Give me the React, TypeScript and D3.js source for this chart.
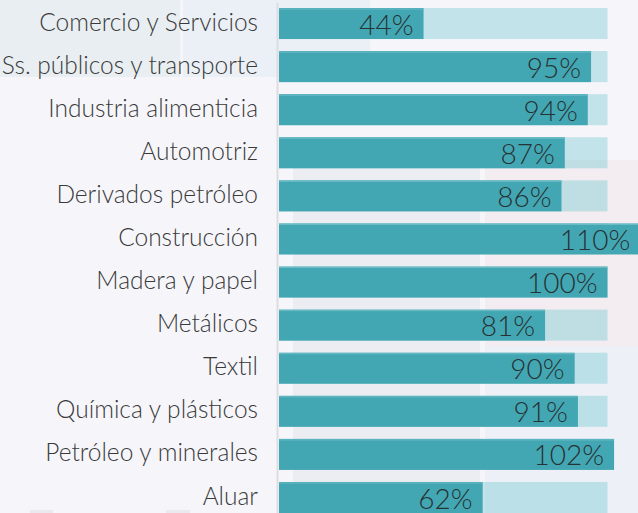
import React from "react";
import * as d3 from "d3";

const categories = [
  "Comercio y Servicios",
  "Ss. públicos y transporte",
  "Industria alimenticia",
  "Automotriz",
  "Derivados petróleo",
  "Construcción",
  "Madera y papel",
  "Metálicos",
  "Textil",
  "Química y plásticos",
  "Petróleo y minerales",
  "Aluar",
];
const values = [44, 95, 94, 87, 86, 110, 100, 81, 90, 91, 102, 62];
const target = 100;

const W = 638;
const H = 513;

export default function App() {
  const x = d3.scaleLinear().domain([0, 100]).range([279, 607.5]);
  const step = 43.09;
  const y = d3
    .scaleBand<string>()
    .domain(categories)
    .range([8 - step * 0.14, 8 - step * 0.14 + step * categories.length])
    .paddingInner(0.28)
    .paddingOuter(0.14);
  const bw = y.bandwidth();
  const font = "Lato, 'Open Sans', sans-serif";

  return (
    <svg
      width={W}
      height={H}
      style={{ position: "absolute", left: 0, top: 0, background: "#f6f6fa" }}
    >
      <defs>
        <clipPath id="plot">
          <rect x={0} y={0} width={W} height={H} />
        </clipPath>
      </defs>
      {/* decorative dashboard panels */}
      <rect x={0} y={0} width={180} height={77} fill="#e8eef1" />
      <rect x={183} y={0} width={187} height={77} fill="#ebf0f7" />
      <rect x={293} y={160} width={187} height={353} fill="#ebedf2" />
      <rect x={485} y={160} width={153} height={186} fill="#f3edf1" />
      <rect x={485} y={346} width={153} height={167} fill="#edf1f7" />
      <rect x={30} y={510} width={23} height={3} fill="#e9e9ef" />
      <rect x={166} y={510} width={24} height={3} fill="#e9e9ef" />

      <line x1={277.5} x2={277.5} y1={3} y2={H} stroke="#dcdce1" strokeWidth={2} />

      <g clipPath="url(#plot)">
        {categories.map((c, i) => {
          const yy = y(c)!;
          const v = values[i];
          const xe = x(v);
          return (
            <g key={c}>
              <rect
                x={x(0)}
                y={yy}
                width={x(target) - x(0)}
                height={bw}
                fill="#8cd0d8"
                fillOpacity={0.5}
              />
              <rect x={x(0)} y={yy} width={xe - x(0)} height={bw} fill="#43a7b3" />
              <rect
                x={x(0)}
                y={yy + 0.5}
                width={xe - x(0)}
                height={1}
                fill="#6cbcc5"
              />
              <text
                x={Math.min(xe - 10, 634)}
                y={yy + bw / 2 + 11}
                textAnchor="end"
                fontFamily={font}
                fontWeight={300}
                fontSize={28}
                fill="#263234"
              >
                {v}%
              </text>
              <text
                x={258}
                y={yy + bw / 2 + 7}
                textAnchor="end"
                fontFamily={font}
                fontWeight={300}
                fontSize={24.5}
                fill="#3a3a3a"
              >
                {c}
              </text>
            </g>
          );
        })}
      </g>
    </svg>
  );
}
